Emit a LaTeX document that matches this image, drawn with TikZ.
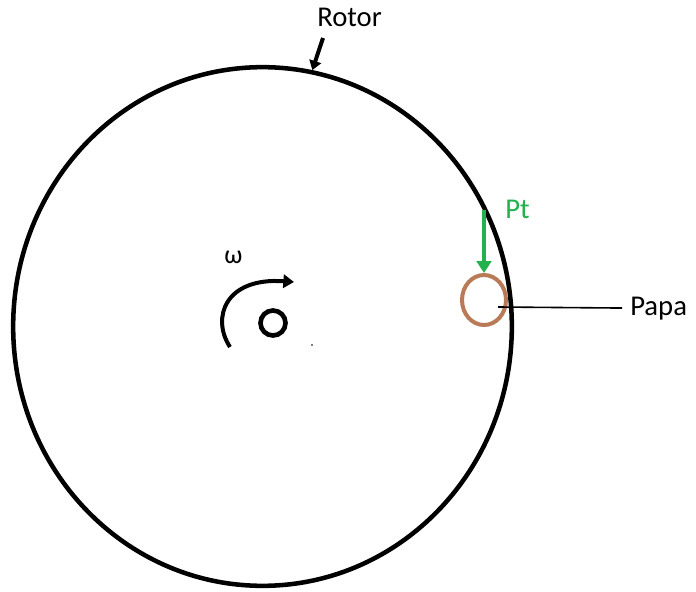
\documentclass[tikz,border=0pt]{standalone}
\usepackage{fontspec}
\setmainfont{Carlito}
\usetikzlibrary{shapes.geometric,arrows.meta}

\begin{document}
\begin{tikzpicture}[x=0.75pt, y=-0.75pt]
% Rotor sketch, coordinates in screen pixels
\providecommand{\rotorLineWidth}{3.4pt}
\providecommand{\rotorTextSize}{\fontsize{21.5}{26}\selectfont}
\definecolor{ptgreen}{RGB}{34,177,76}
\definecolor{papabrown}{RGB}{185,122,87}
\tikzset{
  label text/.style={inner sep=0pt, anchor=base west, font=\rotorTextSize},
  spin arrow/.style={line width=3pt, -{Triangle[width=10pt,length=8pt]}}
}
\useasboundingbox (0,0) rectangle (696,592);
% Rotor outline
\node[draw, ellipse, line width=\rotorLineWidth, inner sep=0pt,
  minimum width=374pt, minimum height=389pt] (rotor) at (262.5,326.5) {};
% Hub and sense of rotation
\node[draw, circle, line width=3.5pt, inner sep=0pt, minimum size=18.75pt] (hub) at (273,323) {};
\fill (312,345) circle [radius=0.8];
\coordinate (spinstart) at (230,347);
\coordinate (spinend) at (294,282);
\draw[spin arrow] (spinstart) .. controls (211,318) and (225,277) .. (spinend);
\node[label text, font=\fontsize{19.5}{23}\selectfont] (omega) at (224,263) {ω};
% Papa spot and tangential force
\node[draw=papabrown, ellipse, line width=3pt, inner sep=0pt,
  minimum width=33pt, minimum height=37.5pt] (papaspot) at (484,300) {};
\coordinate (pttail) at (484,210);
\draw[ptgreen, line width=3pt, -{Triangle[width=11pt,length=9pt]}] (pttail) -- (papaspot.north);
\node[label text, text=ptgreen] (ptlabel) at (505,218) {Pt};
% Labels
\node[label text] (rotorlabel) at (317,27) {Rotor};
\coordinate (rotortail) at (323,38);
\draw[line width=3pt, -{Triangle[width=9pt,length=7pt]}] (rotortail) -- (rotor.79);
\node[label text] (papalabel) at (630,315) {Papa};
\coordinate (papaend) at (498,307);
\draw[line width=1.2pt, shorten >=6pt] (papaend) -- (papalabel.west);
\end{tikzpicture}
\end{document}
